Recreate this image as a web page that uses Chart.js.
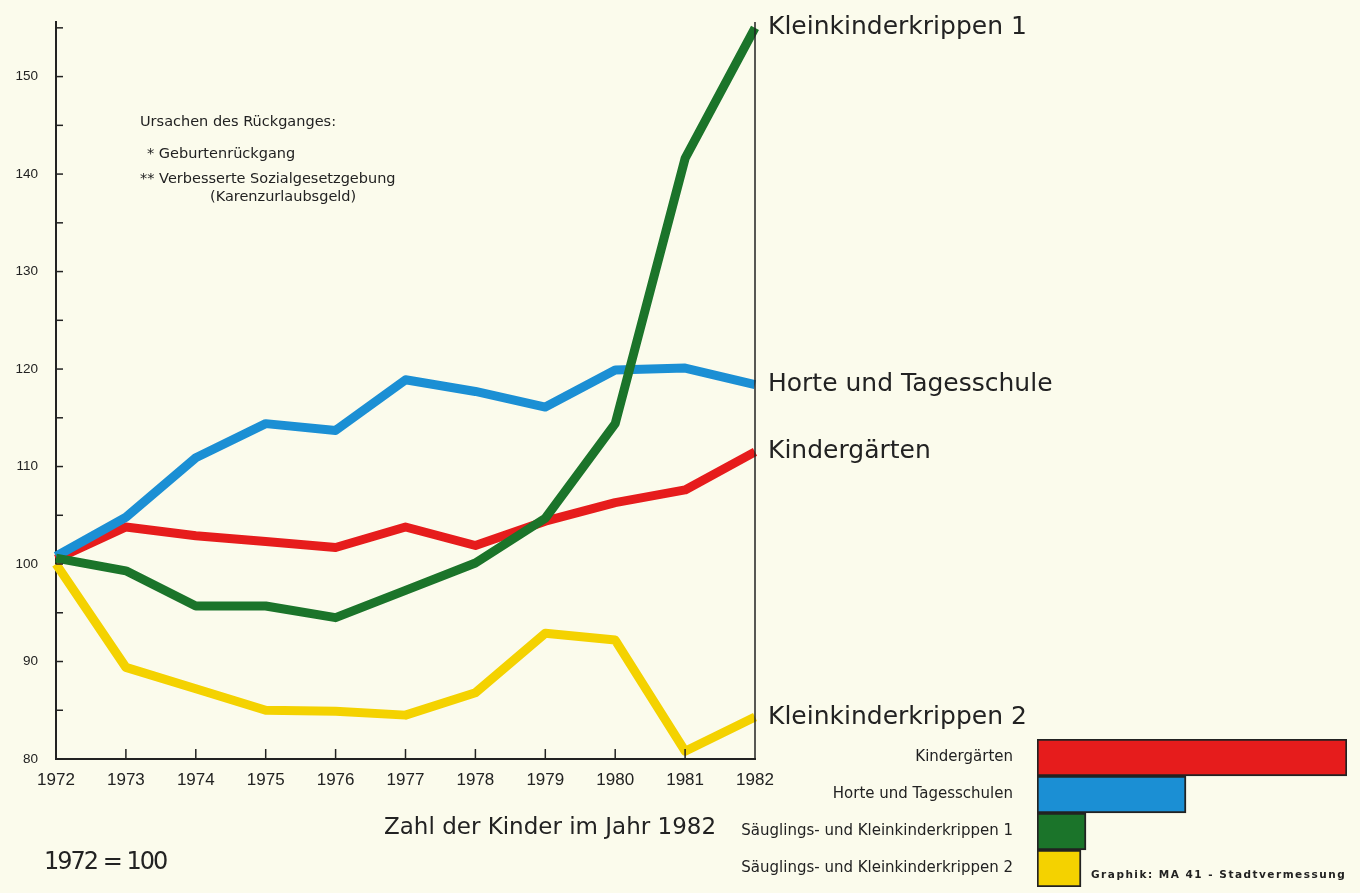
<!DOCTYPE html>
<html>
<head>
<meta charset="utf-8">
<script src="https://cdn.jsdelivr.net/npm/chart.js@4.4.0/dist/chart.umd.min.js"></script>
<style>
    body { margin: 0; background: #fbfbec; width: 1360px; height: 893px; overflow: hidden; position: relative; font-family: "DejaVu Sans", sans-serif; color: #222; }
    .caja { position: absolute; }
    .txt { position: absolute; white-space: nowrap; }
</style>
</head>
<body>
<div class="caja" style="left:0; top:0; width:1360px; height:893px;"><canvas id="g_linien"></canvas></div>
<div class="caja" style="left:700px; top:730px; width:660px; height:166px;"><canvas id="g_balken"></canvas></div>

<div class="txt" style="left:140px; top:113px; font-size:14.5px;">Ursachen des Rückganges:</div>
<div class="txt" style="left:147px; top:145px; font-size:14.5px;">* Geburtenrückgang</div>
<div class="txt" style="left:140px; top:170px; font-size:14.5px;">** Verbesserte Sozialgesetzgebung</div>
<div class="txt" style="left:210px; top:188px; font-size:14.5px;">(Karenzurlaubsgeld)</div>
<div class="txt" style="left:384px; top:813px; font-size:23px;">Zahl der Kinder im Jahr 1982</div>
<div class="txt" style="left:44px; top:847px; font-size:24px; letter-spacing:-2px;">1972 = 100</div>
<div class="txt" style="left:1091px; top:868px; font-size:10.5px; font-weight:bold; letter-spacing:1.5px;">Graphik: MA 41 - Stadtvermessung</div>

<script>
// Index 1972 = 100
var anios = ['1972', '1973', '1974', '1975', '1976', '1977', '1978', '1979', '1980', '1981', '1982'];
var krippen1 = [100.6, 99.3, 95.7, 95.7, 94.5, 97.3, 100.1, 104.7, 114.4, 141.6, 155.0];
var horte = [100.8, 104.8, 110.9, 114.4, 113.7, 118.9, 117.7, 116.1, 119.9, 120.1, 118.4];
var kindergaerten = [100.5, 103.8, 102.9, 102.3, 101.7, 103.8, 101.9, 104.4, 106.3, 107.6, 111.5];
var krippen2 = [100.0, 89.4, 87.2, 85.0, 84.9, 84.5, 86.8, 92.9, 92.2, 80.8, 84.3];
var nombres_lineas = ['Kleinkinderkrippen 1', 'Horte und Tagesschule', 'Kindergärten', 'Kleinkinderkrippen 2'];
var colores = ['#1b742a', '#1b8fd4', '#e61c1c', '#f4d200'];

// Zahl der Kinder im Jahr 1982 (geschätzt, ohne Achse)
var categorias_balken = ['Kindergärten', 'Horte und Tagesschulen', 'Säuglings- und Kleinkinderkrippen 1', 'Säuglings- und Kleinkinderkrippen 2'];
var kinder_1982 = [31000, 14900, 4900, 4400];
var colores_balken = ['#e61c1c', '#1b8fd4', '#1b742a', '#f4d200'];

var negro = '#222';

// ticks nach innen, rechte Linie, Beschriftung am Linienende
var plugin_achsen = {
    id: 'achsen',
    afterDatasetsDraw: function(chart) {
        var ctx = chart.ctx;
        var a = chart.chartArea;
        var sy = chart.scales.y;
        var sx = chart.scales.x;
        ctx.save();
        ctx.strokeStyle = negro;
        ctx.lineWidth = 1.5;
        for (let v = 80; v <= 155; v += 5) {
            var py = sy.getPixelForValue(v);
            ctx.beginPath();
            ctx.moveTo(a.left, py);
            ctx.lineTo(a.left + 7, py);
            ctx.stroke();
        }
        for (let i = 1; i < anios.length - 1; i++) {
            var px = sx.getPixelForValue(i);
            ctx.beginPath();
            ctx.moveTo(px, a.bottom);
            ctx.lineTo(px, a.bottom - 10);
            ctx.stroke();
        }
        ctx.beginPath();
        ctx.moveTo(a.right, a.top);
        ctx.lineTo(a.right, a.bottom);
        ctx.stroke();

        ctx.fillStyle = negro;
        ctx.font = '25px "DejaVu Sans", sans-serif';
        ctx.textBaseline = 'middle';
        chart.data.datasets.forEach(function(ds) {
            var ult = ds.data[ds.data.length - 1];
            ctx.fillText(ds.label, a.right + 13, sy.getPixelForValue(ult));
        });
        ctx.restore();
    }
};

function grafica_lineas() {
    var series = [krippen1, horte, kindergaerten, krippen2];
    var datasets = [];
    for (let i = 0; i < series.length; i++) {
        datasets.push({
            label: nombres_lineas[i],
            data: series[i],
            borderColor: colores[i],
            borderWidth: 9,
            pointRadius: 0,
            tension: 0,
            borderJoinStyle: 'round',
            borderCapStyle: 'butt'
        });
    }

    new Chart(document.getElementById('g_linien'), {
        type: 'line',
        data: { labels: anios, datasets: datasets },
        options: {
            responsive: true,
            maintainAspectRatio: false,
            animation: false,
            layout: { padding: { top: 22, right: 605, bottom: 0, left: 0 } },
            plugins: { legend: { display: false }, tooltip: { enabled: false } },
            scales: {
                x: {
                    offset: false,
                    grid: { display: false, drawTicks: true, tickLength: 11 },
                    border: { display: true, color: negro, width: 2 },
                    ticks: { color: negro, padding: 0, maxRotation: 0, font: { family: "'Liberation Sans Narrow', 'Liberation Sans', sans-serif", size: 17 } },
                    afterFit: function(s) { s.height = 134; }
                },
                y: {
                    min: 80,
                    max: 155.6,
                    grid: { display: false, drawTicks: true, tickLength: 18 },
                    border: { display: true, color: negro, width: 2 },
                    ticks: {
                        stepSize: 5,
                        color: negro,
                        padding: 0,
                        font: { family: "'Liberation Sans Narrow', 'Liberation Sans', sans-serif", size: 13.5 },
                        callback: function(v) { return v % 10 === 0 ? v : ''; }
                    },
                    afterFit: function(s) { s.width = 56; }
                }
            }
        },
        plugins: [plugin_achsen]
    });
}

function grafica_balken() {
    new Chart(document.getElementById('g_balken'), {
        type: 'bar',
        data: {
            labels: categorias_balken,
            datasets: [{
                data: kinder_1982,
                backgroundColor: colores_balken,
                borderColor: negro,
                borderWidth: 2,
                borderSkipped: false,
                barPercentage: 1,
                categoryPercentage: 1
            }]
        },
        options: {
            indexAxis: 'y',
            responsive: true,
            maintainAspectRatio: false,
            animation: false,
            layout: { padding: { top: 0, right: 13, bottom: 0, left: 0 } },
            plugins: { legend: { display: false }, tooltip: { enabled: false } },
            scales: {
                x: { display: false, min: 0, max: 31000 },
                y: {
                    grid: { display: false, drawTicks: true, tickLength: 24 },
                    border: { display: false },
                    ticks: { color: negro, padding: 0, font: { family: "'DejaVu Sans', sans-serif", size: 15 } },
                    afterFit: function(s) { s.width = 337; }
                }
            }
        }
    });
}

grafica_lineas();
grafica_balken();
</script>
</body>
</html>
